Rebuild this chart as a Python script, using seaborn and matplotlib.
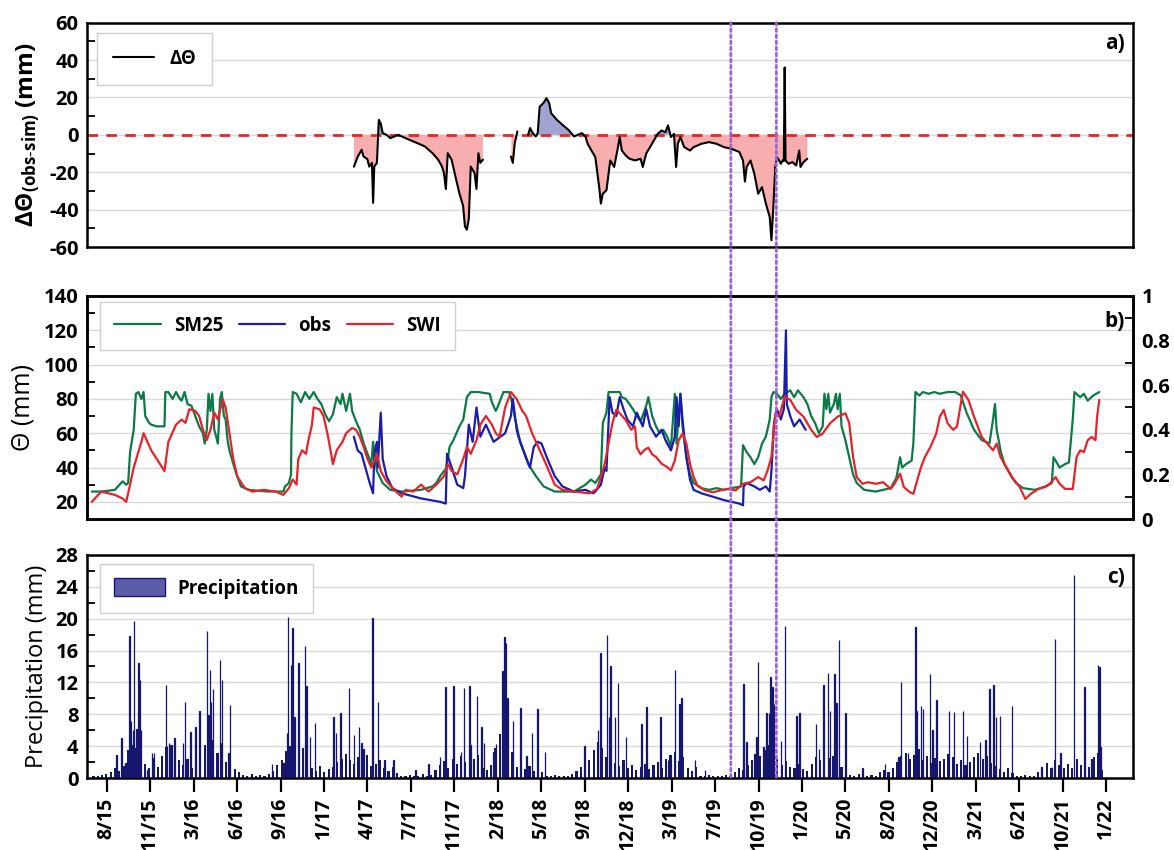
import numpy as np
import pandas as pd
import matplotlib
matplotlib.use("Agg")
import matplotlib.pyplot as plt
import matplotlib.dates as mdates
from matplotlib.lines import Line2D
from matplotlib.patches import Patch, ConnectionPatch
from matplotlib.ticker import FixedLocator, FixedFormatter, NullLocator
import seaborn as sns

# ------------------------------------------------------------------ data
BASE_DATE = "2015-07-01"          # day 0 of all "day" arrays

tick_labels = ["8/15", "11/15", "3/16", "6/16", "9/16", "1/17", "4/17", "7/17",
               "11/17", "2/18", "5/18", "9/18", "12/18", "3/19", "7/19", "10/19",
               "1/20", "5/20", "8/20", "12/20", "3/21", "6/21", "10/21", "1/22"]

event_day = [1511, 1617.5]        # dotted purple markers

# panel a) : delta theta (obs - sim), NaN separates gaps
dtheta_day = [629.3, 638.3, 647.3, 651.7, 660.7, 665.1, 671.4, 674.1, 676.8, 683, 687.5, 692,
              696.5, 705.5, 714.4, 723.4, 732.3, 741.3, 759.2, 777, 795, 812.9, 826.3, 835.3,
              839.8, 844.3, 848.7, 857.7, 866.6, 875.6, 884.6, 889, 893.5, 898, 902.5, 911.4,
              915.9, 920.4, 924.9, 931.1, 963,
              996.5, 1001, 1005.5, 1011.7, 1024,
              1036.8, 1041.3, 1047.5, 1054.7, 1059.2, 1063.7, 1072.6, 1079.8, 1086, 1090.5,
              1104, 1117.4, 1130.8, 1144.3, 1153.2, 1162.2, 1171, 1176, 1185, 1194, 1203,
              1207, 1211.5, 1220, 1229, 1238, 1247, 1251, 1256, 1265, 1274, 1287, 1300, 1305,
              1313, 1322, 1331, 1340, 1349, 1358, 1364, 1371, 1378, 1383, 1387, 1393, 1402,
              1415.5, 1424, 1442, 1460, 1477.5, 1495, 1513, 1531, 1539.5, 1544, 1548, 1557,
              1566, 1575, 1584, 1593, 1602, 1606, 1610.5, 1615, 1619, 1624, 1628, 1632.5,
              1635, 1637, 1639, 1646, 1655, 1664, 1671, 1674, 1681, 1690]
dtheta_val = [-17, -11.6, -8, -11.6, -13, -17, -15, -36.4, -17, -15, 8, 6,
              0.9, 0, -1.8, -0.9, 0, -0.9, -2.7, -4.4, -6.2, -9.8, -13.3, -17,
              -20.4, -29, -9.8, -13.3, -22.2, -31, -38, -49, -50.7, -45, -17, -20.4,
              -29, -9.8, -15, -13.3, np.nan,
              -11.6, -15, -4.4, 1.8, np.nan,
              0, 3.6, 0.9, -0.9, 0.9, 15, 17, 19.6, 17, 11.6,
              8, 5.3, 2.7, -0.9, 0, 0.9, -0.9, -4.8, -8.4, -12, -28,
              -36.8, -31.5, -29.7, -13.7, -17.2, -6.6, -1.2, -8.4, -11, -12.8, -13.7, -12.8, -17.2,
              -10, -6.6, -3, 0.5, 2.3, 1.4, 5, -1.2, 0.5, -17.2, -4.8, -1.2, -6.6,
              -8.4, -6.6, -4.8, -3.9, -4.8, -6.6, -7.5, -9.2, -13.7, -25, -17.2, -13.7,
              -20.8, -31.5, -28, -36.8, -44, -56.4, -38.6, -17.2, -12, -13.7, -15.5, -13.7,
              -14, 36, -13.7, -15.5, -14.6, -16.4, -8.4, -17.2, -14.6, -12.8]

# panel b) : soil moisture series
sm25_day = [16, 38, 70, 88, 96.5, 101, 105.5, 114, 119, 125, 132, 137, 141, 150, 155, 168, 186, 188,
            195, 205, 213, 222, 226, 233, 240, 249, 258, 267, 276, 280, 285, 289, 293.5, 298, 302.5,
            307, 311, 316, 320, 325, 329, 334, 338, 347, 356, 365, 383, 428, 464, 468, 477, 482, 483,
            486, 495, 505, 515, 525, 535, 544, 553, 562, 571, 580, 589, 598, 602.5, 611, 620, 625,
            634, 643, 652, 661, 670, 674, 683, 696.5, 714, 741, 786, 813, 822, 831, 840, 844, 849,
            853, 862, 876, 885, 893.5, 902.5, 920, 947, 952, 961, 965, 979, 992, 996.5, 1005, 1019,
            1037, 1055, 1073, 1099, 1144, 1171, 1184, 1194, 1207, 1211.5, 1220, 1225, 1251, 1256,
            1265, 1274, 1282, 1291, 1300, 1313, 1318, 1327, 1336, 1344.5, 1353, 1362, 1371, 1380,
            1384, 1393, 1398, 1407, 1415.5, 1424, 1442, 1460, 1477.5, 1495, 1513, 1535, 1539.5,
            1548, 1557, 1566, 1575, 1584, 1593, 1602, 1606, 1610.5, 1619, 1628, 1637, 1650, 1659,
            1668, 1681, 1690, 1699, 1708, 1717, 1726, 1730, 1734.5, 1739, 1743, 1752, 1757, 1761,
            1766, 1770, 1779, 1788, 1797, 1805.5, 1823, 1850, 1867.5, 1885, 1898.5, 1907, 1912,
            1921, 1934, 1938, 1943, 1952, 1960.5, 1974, 1987, 2000, 2018, 2036, 2049, 2062.5, 2080,
            2098, 2116, 2124.5, 2129, 2133, 2142, 2151, 2160, 2169, 2178, 2195, 2222, 2249, 2262,
            2266, 2271, 2280, 2293, 2302, 2311, 2315, 2328.5, 2337, 2346, 2359, 2373]
sm25_val = [26, 26, 27, 32, 30, 31, 49, 62, 83, 84, 80, 84, 70, 66, 65, 64, 64, 84,
            84, 80, 84, 80, 79, 84, 77, 76, 70, 64, 60, 54, 62, 83, 73, 83, 62,
            58, 54, 80, 84, 70, 68, 55, 50, 42, 35, 29, 27, 26, 26, 29, 31, 36, 60,
            84, 83, 78, 84, 80, 84, 80, 77, 71, 67, 71, 81, 77, 83, 73, 83, 73,
            67, 62, 54, 48, 42, 55, 38, 31, 27, 26, 27, 29, 31, 35, 38, 39, 45,
            52, 56, 64, 68, 81, 84, 84, 83, 78, 73, 75, 84, 84, 81, 70, 54,
            42, 35, 29, 26, 26, 30, 33, 31, 36, 66, 72, 84, 84, 81,
            80, 77, 74, 70, 67, 76, 81, 70, 64, 60, 62, 58, 52, 83,
            54, 83, 64, 46, 36, 31, 28, 27, 28, 27, 28, 29, 53,
            49, 46, 42, 46, 54, 58, 68, 81, 84, 83, 80, 83, 85, 81,
            85, 81, 77, 70, 66, 60, 64, 83, 74, 83, 72, 77, 83, 74,
            83, 64, 56, 46, 36, 31, 27, 26, 27, 28, 34, 46, 40,
            42, 44, 54, 84, 82, 84, 83, 84, 83, 84, 84, 82, 72, 62,
            56, 54, 68, 77, 62, 50, 42, 38, 34, 31, 28, 27, 29, 31,
            46, 44, 40, 42, 43, 68, 84, 81, 83, 79, 82, 84]

obs_day = [629, 638, 647, 656, 665, 670, 674, 677, 683, 685, 692, 696.5, 705.5, 719, 741, 786, 831,
           844, 847, 858, 871, 885, 889, 898, 907, 916, 925, 938, 956, 983, 996.5, 1001, 1010, 1014,
           1023, 1032, 1041, 1050, 1059, 1068, 1082, 1099, 1117, 1144, 1171, 1189, 1194, 1207, 1216,
           1220, 1227.5, 1234, 1243, 1251, 1260, 1269, 1282, 1291, 1305, 1313, 1322, 1336, 1349,
           1358, 1371, 1380, 1384, 1389, 1393, 1398, 1407, 1415.5, 1424, 1442, 1469, 1495, 1513,
           1531, 1539.5, 1541, 1548, 1566, 1579, 1593, 1602, 1606, 1612, 1619, 1628, 1635, 1640,
           1642, 1650, 1659, 1672, 1686]
obs_val = [58, 50, 48, 40, 32, 28, 25, 48, 55, 40, 72, 45, 35, 28, 25, 22, 20,
           19, 48, 40, 30, 28, 35, 65, 55, 75, 58, 65, 55, 60, 70, 80, 62, 58,
           52, 46, 40, 52, 55, 54, 45, 35, 29, 26, 27, 25, 26, 30, 40,
           38, 81, 72, 70, 81, 74, 68, 64, 72, 64, 74, 64, 58, 62,
           56, 50, 58, 81, 64, 83, 68, 46, 33, 27, 25, 23, 21, 20,
           19, 18, 29, 31, 29, 27, 29, 26, 38, 66, 74, 68, 74, 120,
           77, 70, 64, 68, 62]

swi_day = [16, 38, 70, 88, 96.5, 105.5, 114, 132, 137, 155, 168, 186, 195, 213, 226, 235, 244, 258,
           267, 276, 285, 293.5, 302.5, 311, 322, 329, 338, 347, 356, 374, 392, 419, 446, 464, 477,
           486, 495, 499, 508, 517, 522, 531, 535, 549, 558, 567, 576, 580, 589, 602.5, 611, 625,
           634, 643, 652, 661, 670, 683, 692, 705.5, 723, 741, 750, 768, 786, 804, 822, 840, 849,
           858, 871, 885, 893.5, 902.5, 916, 925, 938, 952, 961, 970, 983, 996.5, 1010, 1023, 1032,
           1046, 1064, 1082, 1099, 1117, 1144, 1180, 1185, 1198, 1207, 1216, 1225, 1234, 1243,
           1251, 1265, 1278, 1287, 1291, 1300, 1309, 1318, 1327, 1336, 1349, 1362, 1371, 1380,
           1389, 1398, 1407, 1415.5, 1424, 1433, 1451, 1469, 1486, 1504, 1522, 1539.5, 1557, 1575,
           1588, 1597, 1606, 1615, 1624, 1637, 1650, 1664, 1681, 1699, 1712, 1726, 1743, 1761,
           1779, 1788, 1797, 1805.5, 1819, 1832, 1850, 1867.5, 1885, 1894, 1907, 1916, 1930, 1938,
           1947, 1956, 1965, 1978, 1991.5, 2000, 2009, 2018, 2031, 2040, 2054, 2067, 2080, 2098,
           2111, 2124.5, 2133, 2142, 2155.5, 2169, 2187, 2200, 2213, 2231, 2244, 2257.5, 2271,
           2280, 2293, 2311, 2320, 2328.5, 2337, 2346, 2355, 2364, 2368, 2373]
swi_val = [.077, .123, .108, .092, .077, .154, .231, .346, .385, .308, .269, .215, .346, .423, .446,
           .431, .492, .485, .462, .4, .354, .4, .477, .446, .538, .5, .385, .269, .192, .138, .123,
           .131, .123, .108, .138, .177, .154, .269, .308, .292, .346, .423, .5, .492, .462, .385,
           .292, .246, .308, .346, .385, .408, .4, .369, .323, .269, .231, .292, .215, .169, .131,
           .1, .131, .123, .154, .123, .154, .192, .246, .215, .2, .269, .323, .292, .354, .423,
           .462, .423, .385, .369, .5, .569, .538, .485, .462, .385, .308, .231, .154, .131, .123,
           .115, .12, .135, .188, .248, .338, .43, .49, .474, .444, .4, .414, .32, .29, .31, .32,
           .29, .278, .248, .233, .218, .263, .353, .383, .338, .248, .188, .15, .128, .12, .128,
           .135, .128, .158, .165, .188, .173, .218, .278, .474, .459, .549, .534, .489, .459, .4,
           .368, .383, .429, .459, .474, .43, .278, .188, .158, .165, .158, .165, .135, .158, .203,
           .143, .12, .113, .173, .233, .278, .323, .383, .459, .489, .43, .4, .414, .571, .534,
           .459, .368, .338, .308, .338, .278, .233, .188, .143, .09, .113, .135, .143, .158, .188,
           .158, .135, .135, .278, .308, .3, .353, .368, .353, .459, .534]

# panel c) : daily precipitation - individual storm days
rain_day = [74, 86, 95, 104, 108, 112, 115, 120, 125, 129, 131, 146, 157, 162, 189, 192, 197, 202,
            209, 229, 233.5, 247, 258, 268, 285.5, 289, 292, 295, 300, 316, 320, 336, 339, 437, 464,
            473, 475, 482, 486, 490.5, 499, 515, 518, 526, 538, 582, 587, 598, 618, 629, 641, 647,
            652, 673, 686, 701, 722, 773, 804, 831, 844, 862, 880, 887, 900, 902.5, 917, 928, 934,
            956, 962, 977, 981, 985, 988, 1001, 1019, 1033, 1046, 1059, 1076, 1169,
            1200, 1206, 1221, 1226, 1230, 1240, 1247, 1266, 1302, 1314, 1347, 1364, 1371, 1380,
            1391, 1396, 1427, 1451, 1540.5, 1548, 1566, 1570.5, 1575, 1588, 1594.5, 1600, 1604,
            1609, 1612, 1628, 1638, 1665, 1672, 1710, 1717, 1728, 1738, 1743, 1753, 1758, 1764,
            1779, 1819, 1872, 1903, 1909, 1925, 1943, 1945.5, 1956, 1961, 1977, 1983, 1992, 2021,
            2033, 2054, 2064, 2094, 2107, 2116.5, 2126, 2131, 2140.5, 2169, 2238, 2262, 2270, 2282,
            2314, 2338, 2355, 2370, 2374, 2376]
rain_val = [2.9, 5.0, 1.9, 17.8, 7.1, 6.0, 19.7, 6.1, 14.5, 12.3, 6.0, 1.0, 3.1, 3.1, 11.7, 4.0, 4.4,
            4.2, 5.0, 4.4, 9.6, 5.8, 6.4, 8.4, 18.4, 7.9, 13.6, 9.6, 11.2, 14.8, 12.3, 3.1, 9.2, 1.7,
            1.9, 5.6, 20.2, 14.2, 18.8, 7.7, 14.5, 16.6, 11.5, 5.2, 6.9, 7.6, 5.6, 8.1, 11.3, 5.4,
            6.4, 4.4, 3.6, 20.1, 9.5, 2.3, 2.2, 1.0, 1.7, 2.6, 11.4, 11.5, 3.3, 11.3, 11.5, 4.2,
            10.3, 6.4, 4.4, 3.3, 4.3, 13.4, 17.7, 16.9, 10.0, 7.2, 8.8, 2.7, 5.6, 8.6, 3.3, 4.0,
            6.0, 15.7, 17.9, 7.6, 14.1, 7.6, 11.9, 5.2, 6.8, 8.9, 7.7, 2.2, 2.6, 13.6,
            9.3, 10.0, 2.2, 1.0, 11.8, 4.5, 3.0, 5.1, 14.6, 3.9, 8.1, 8.1, 12.7,
            11.4, 9.3, 4.7, 19.1, 7.8, 8.1, 6.8, 3.7, 11.7, 13.2, 8.4, 13.1, 9.4, 17.3,
            8.1, 1.3, 1.8, 2.6, 12.1, 3.2, 18.9, 8.4, 9.1, 8.7, 13.0, 6.0, 9.8, 8.4,
            8.3, 8.4, 5.3, 4.5, 4.8, 11.2, 11.7, 7.6, 7.8, 9.0, 1.4, 1.4, 17.4, 3.2,
            25.5, 11.4, 2.4, 14.2, 13.9, 3.9]

# panel c) : background drizzle, one value per 10-day block starting at day 20
drizzle_start, drizzle_step = 20, 10
drizzle_val = [0.3, 0.2, 0.4, 0.5, 0.8, 1.2, 0.9, 1.5, 3.5, 4.2, 3.8, 4.5, 1.8, 1.2, 2.5, 1.4,
               2.8, 3.9, 4.1, 3.2, 2.2, 1.6, 2.4, 1.3, 2.8, 3.5, 4.2, 3.6, 4.8, 3.1, 4.4,
               2.0, 2.6, 1.1, 0.8, 0.4, 0.3, 0.5, 0.2, 0.4, 0.3, 0.5,
               0.9, 1.6, 2.2, 3.4, 4.0, 3.1, 2.6, 3.8, 1.9, 1.2, 0.9, 1.5, 0.8, 1.1, 1.4, 2.0,
               2.4, 3.0, 2.2, 1.8, 2.6, 1.9, 2.9, 1.5, 1.8, 2.3, 1.2, 0.9, 1.4, 0.6,
               0.3, 0.2, 0.4, 0.3, 0.2, 0.5, 0.3, 0.4, 1.0, 1.6, 2.1, 1.3, 2.4, 1.8,
               2.7, 2.0, 3.2, 2.4, 2.9, 1.3, 1.0, 1.6, 3.8, 5.5, 6.2, 4.1, 3.3,
               1.4, 1.8, 1.1, 1.5, 0.9, 1.2, 0.7, 0.3, 0.2, 0.4, 0.3, 0.2, 0.3, 0.5,
               0.9, 1.4, 1.8, 2.2, 3.5, 4.5, 3.8, 2.6, 3.1, 1.9, 1.5, 2.3, 1.2, 1.6, 1.0,
               1.4, 1.8, 1.1, 1.6, 2.0, 1.3, 2.4, 2.9, 3.3, 2.1, 2.6, 1.2, 0.9, 1.4,
               0.3, 0.2, 0.4, 0.3, 0.2, 0.3, 0.4, 0.3, 0.8, 1.3, 1.0, 1.6, 2.2, 1.5,
               2.8, 3.5, 4.2, 3.9, 2.4, 1.6, 2.1, 1.4, 1.2, 1.8, 1.1, 0.9,
               1.8, 2.6, 2.2, 3.1, 2.5, 2.8, 1.9, 1.4, 0.6, 0.4, 0.3, 0.5, 0.3, 0.2, 0.4, 0.3,
               0.7, 1.0, 0.8, 1.3, 2.0, 2.8, 3.2, 2.4, 2.9, 3.6, 2.2, 2.7, 1.9, 2.5, 2.1,
               2.4, 3.0, 2.6, 1.8, 2.2, 1.6, 2.0, 2.6, 3.2, 2.4, 2.8, 1.9, 1.5,
               1.1, 0.8, 1.2, 0.6, 0.3, 0.2, 0.4, 0.3, 0.2, 0.8, 1.4, 1.9, 1.2, 2.2, 1.6, 1.3,
               1.8, 1.2, 2.4, 1.6, 1.9, 1.4, 2.6, 3.2, 1.0]

# ------------------------------------------------------------------ helpers
base = pd.Timestamp(BASE_DATE)


def to_dates(days):
    return base + pd.to_timedelta(np.asarray(days, dtype=float), unit="D")


X_LIMITS = to_dates([4.7, 2452])
tick_pos = to_dates([50.8 + 101.67 * k for k in range(len(tick_labels))])

GREEN, BLUE, RED = "#0c7a47", "#1c1caa", "#e5232b"
NAVY = "#16166e"
PURPLE = "#9a63d8"
GRID = "#dadada"

sns.set_theme(style="white", rc={"axes.edgecolor": "black", "text.color": "black",
                                 "axes.labelcolor": "black", "xtick.color": "black",
                                 "ytick.color": "black"})
plt.rcParams["font.family"] = ["Open Sans", "DejaVu Sans"]
plt.rcParams["axes.unicode_minus"] = False
plt.rcParams["mathtext.default"] = "regular"

fig = plt.figure(figsize=(11.74, 8.5), dpi=100)
L, W = 0.0741, 0.8910
ax_a = fig.add_axes([L, 0.7094, W, 0.2640])
ax_b = fig.add_axes([L, 0.3894, W, 0.2624])
ax_c = fig.add_axes([L, 0.0847, W, 0.2624])
ax_b2 = ax_b.twinx()

TICK_FS = 14.5


def style_axis(ax, ylim, majors, minors, labels=None, right=False, grid=True):
    ax.set_xlim(X_LIMITS[0], X_LIMITS[1])
    ax.set_ylim(*ylim)
    ax.yaxis.set_major_locator(FixedLocator(majors))
    if labels is not None:
        ax.yaxis.set_major_formatter(FixedFormatter(labels))
    ax.yaxis.set_minor_locator(FixedLocator(minors))
    side = dict(right=True, left=False, labelright=True, labelleft=False) if right else \
        dict(left=True, right=False, labelleft=True, labelright=False)
    ax.tick_params(axis="y", which="major", length=0, labelsize=TICK_FS, pad=6, **side)
    ax.tick_params(axis="y", which="minor", direction="in", length=6, width=1.3, **side)
    for lab in ax.get_yticklabels():
        lab.set_fontweight("bold")
    for sp in ax.spines.values():
        sp.set_color("black")
        sp.set_linewidth(1.8)
    if grid:
        ax.yaxis.grid(True, which="major", color=GRID, lw=1.0)
    ax.set_axisbelow(True)


LEG_PROP = {"weight": "bold", "size": 13.5}

# ------------------------------------------------------------------ panel a
a_val = np.asarray(dtheta_val, dtype=float)
seg = np.cumsum(np.isnan(a_val))
dfa = pd.DataFrame({"date": to_dates(dtheta_day), "val": a_val, "seg": seg}).dropna()
for s, g in dfa.groupby("seg"):
    v = g["val"].to_numpy()
    ax_a.fill_between(g["date"], v, 0, where=v <= 0, interpolate=True,
                      color="#f8aeae", lw=0, zorder=1)
    ax_a.fill_between(g["date"], v, 0, where=v >= 0, interpolate=True,
                      color="#a3a3d2", lw=0, zorder=1)
ax_a.axhline(0, color="#e0282c", lw=2.0, dashes=(3.8, 3.0), zorder=2)
sns.lineplot(data=dfa, x="date", y="val", units="seg", estimator=None, sort=False,
             color="black", lw=1.5, ax=ax_a, legend=False, zorder=3)
style_axis(ax_a, (-60, 60), [-60, -40, -20, 0, 20, 40, 60], [-50, -30, -10, 10, 30, 50])
ax_a.xaxis.set_major_locator(NullLocator())
ax_a.set_xlabel("")
ax_a.set_ylabel("ΔΘ$_{(obs\u2010sim)}$ (mm)", fontsize=17.5, fontweight="bold", labelpad=4)
ax_a.legend(handles=[Line2D([], [], color="black", lw=1.5)], labels=["ΔΘ"],
            loc="upper left", bbox_to_anchor=(0.0096, 0.954), borderaxespad=0,
            fancybox=False, edgecolor="#cfcfcf", framealpha=1,
            handlelength=2.2, handletextpad=0.8, borderpad=0.85, prop=LEG_PROP)
ax_a.text(0.992, 0.905, "a)", transform=ax_a.transAxes, ha="right", va="center",
          fontsize=15, fontweight="bold")

# ------------------------------------------------------------------ panel b
dfs = pd.DataFrame({"date": to_dates(sm25_day), "val": sm25_val})
dfo = pd.DataFrame({"date": to_dates(obs_day), "val": obs_val})
dfw = pd.DataFrame({"date": to_dates(swi_day), "val": swi_val})
sns.lineplot(data=dfs, x="date", y="val", color=GREEN, lw=1.6, ax=ax_b, legend=False)
sns.lineplot(data=dfo, x="date", y="val", color=BLUE, lw=1.6, ax=ax_b, legend=False)
sns.lineplot(data=dfw, x="date", y="val", color=RED, lw=1.6, ax=ax_b2, legend=False)
style_axis(ax_b, (10, 140), [20, 40, 60, 80, 100, 120, 140], [30, 50, 70, 90, 110, 130])
style_axis(ax_b2, (0, 1), [0, 0.2, 0.4, 0.6, 0.8, 1.0], [0.1, 0.3, 0.5, 0.7, 0.9],
           labels=["0", "0.2", "0.4", "0.6", "0.8", "1"], right=True, grid=False)
for ax in (ax_b, ax_b2):
    ax.xaxis.set_major_locator(NullLocator())
    ax.set_xlabel("")
ax_b2.set_ylabel("")
ax_b.set_ylabel("Θ (mm)", fontsize=18, labelpad=6)
ax_b2.legend(handles=[Line2D([], [], color=c, lw=1.6) for c in (GREEN, BLUE, RED)],
             labels=["SM25", "obs", "SWI"], ncol=3, loc="upper left",
             bbox_to_anchor=(0.0124, 0.973), borderaxespad=0, fancybox=False,
             edgecolor="#cfcfcf", framealpha=1, handlelength=2.5, handletextpad=0.7,
             columnspacing=0.8, borderpad=0.75, prop=LEG_PROP)
ax_b2.text(0.992, 0.885, "b)", transform=ax_b2.transAxes, ha="right", va="center",
           fontsize=15, fontweight="bold")

# ------------------------------------------------------------------ panel c
drz_days = [drizzle_start + drizzle_step * i for i in range(len(drizzle_val))]
ax_c.bar(to_dates(drz_days), drizzle_val, width=5.0, color=NAVY, lw=0, zorder=2)
ax_c.bar(to_dates(rain_day), rain_val, width=1.2, color="#5c5ca8", edgecolor=NAVY,
         lw=0.9, zorder=3)
style_axis(ax_c, (0, 28), [0, 4, 8, 12, 16, 20, 24, 28], [2, 6, 10, 14, 18, 22, 26])
ax_c.set_xticks(tick_pos)
ax_c.set_xticklabels(tick_labels, rotation=90, fontsize=14, fontweight="bold")
ax_c.tick_params(axis="x", which="major", direction="out", length=10, width=1.6,
                 bottom=True, pad=4)
ax_c.xaxis.set_minor_locator(NullLocator())
ax_c.set_xlabel("")
ax_c.set_ylabel("Precipitation (mm)", fontsize=17, labelpad=5)
ax_c.legend(handles=[Patch(facecolor="#5c5ca8", edgecolor=NAVY, lw=1.0)],
            labels=["Precipitation"], loc="upper left", bbox_to_anchor=(0.0124, 0.959),
            borderaxespad=0, fancybox=False, edgecolor="#cfcfcf", framealpha=1,
            handlelength=2.7, handleheight=1.1, handletextpad=0.7, borderpad=0.75,
            prop=LEG_PROP)
ax_c.text(0.992, 0.9, "c)", transform=ax_c.transAxes, ha="right", va="center",
          fontsize=15, fontweight="bold")

fig.align_ylabels([ax_a, ax_b, ax_c])

# ------------------------------------------------------------------ event markers
for d in to_dates(event_day):
    xn = mdates.date2num(d)
    con = ConnectionPatch(xyA=(xn, 60), coordsA=ax_a.transData,
                          xyB=(xn, 0), coordsB=ax_c.transData,
                          color=PURPLE, lw=2.0, linestyle=(0, (1, 1.2)), zorder=10)
    fig.add_artist(con)

fig.savefig("out.png", dpi=100)
